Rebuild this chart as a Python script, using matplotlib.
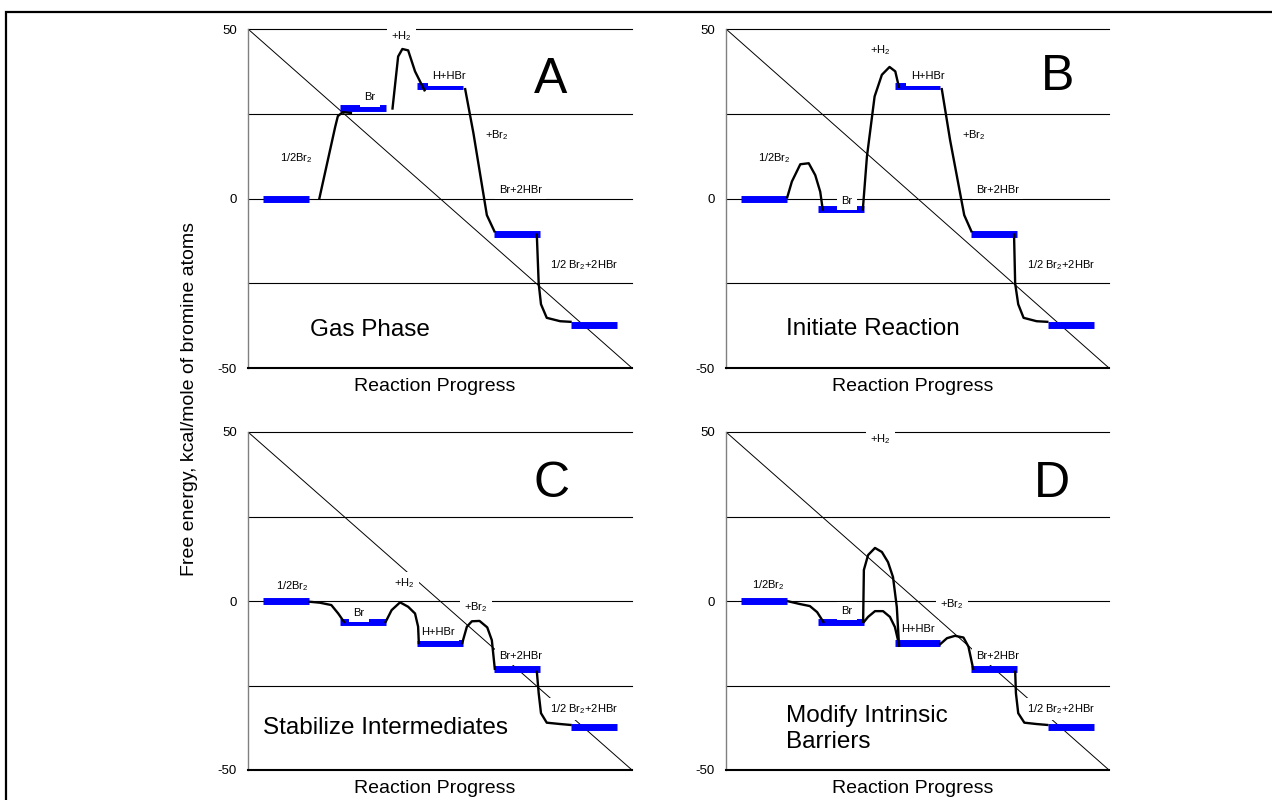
import matplotlib
matplotlib.use("Agg")
import matplotlib.pyplot as plt
from matplotlib.patches import Rectangle

plt.rcParams['font.family'] = ['Liberation Sans', 'DejaVu Sans']

# --- data -------------------------------------------------------------
bar_start = [4, 24, 44, 64, 84]
bar_end = [16, 36, 56, 76, 96]

levels_a = [0, 26.7, 33.3, -10.4, -37.3]
levels_b = [0, -3.0, 33.3, -10.4, -37.3]
levels_c = [0, -6.2, -12.3, -20.0, -37.3]
levels_d = [0, -6.2, -12.3, -20.0, -37.3]

curves_a = [
    ([18.5, 22.7, 23.4, 24.7, 27.1], [-0.4, 21.1, 24.3, 25.5, 25.2]),
    ([37.6, 39.1, 40.2, 41.7, 43.5, 46.1], [26.2, 41.9, 44.1, 43.7, 37.5, 31.6]),
    ([56.5, 58.7, 62.2, 64.3], [32.6, 19.3, -4.9, -10.0]),
    ([75.2, 75.7, 76.3, 77.8, 81.3, 84.3], [-10.3, -25.1, -31.2, -35.2, -36.2, -36.4]),
]
curves_b = [
    ([15.9, 17.2, 19.4, 21.6, 23.3, 24.6, 25.3], [0, 5.0, 10.1, 10.4, 6.9, 2.0, -3.6]),
    ([35.7, 36.8, 38.8, 40.7, 42.7, 44.2, 45.2], [-3.6, 12.4, 30.1, 36.5, 38.8, 37.5, 32.6]),
    ([56.3, 58.5, 62.2, 64.2], [32.6, 17.3, -4.9, -10.0]),
    ([75.2, 75.5, 76.3, 77.7, 81.1, 84.2], [-10.3, -25.1, -31.2, -35.2, -36.2, -36.4]),
]
curves_c = [
    ([15.8, 18.7, 21.7, 23.5, 25.2], [-0.2, -0.5, -1.2, -3.7, -6.5]),
    ([35.7, 37.4, 39.6, 41.7, 43.5, 44.3, 44.5], [-6.5, -2.7, -0.4, -1.7, -3.7, -7.6, -12.8]),
    ([55.7, 57.0, 58.3, 60.3, 62.3, 63.5, 64.3], [-12.8, -7.6, -6.0, -5.9, -7.8, -11.6, -20.4]),
    ([75.2, 75.7, 76.3, 77.8, 81.3, 84.3], [-20.6, -27.3, -33.2, -36.0, -36.4, -36.7]),
]
curves_d = [
    ([15.9, 19.3, 21.9, 23.8, 25.6], [0, -0.9, -1.5, -3.3, -6.5]),
    ([35.8, 37.1, 38.9, 41.0, 42.8, 44.1, 45.2], [-6.5, -4.7, -3.0, -3.0, -4.7, -7.7, -13.0]),
    ([35.8, 36.0, 37.1, 38.9, 40.7, 42.3, 43.6, 44.6, 45.2], [-6.5, 9.2, 13.6, 15.7, 14.5, 11.5, 7.1, -1.8, -13.6]),
    ([55.7, 57.7, 59.8, 62.0, 63.3, 64.6], [-13.0, -11.0, -10.3, -10.8, -13.5, -20.4]),
    ([75.5, 75.7, 76.3, 77.9, 81.1, 84.2], [-20.6, -27.3, -33.2, -36.0, -36.4, -36.7]),
]

S2 = r'$\mathregular{_2}$'
species = ['1/2Br' + S2, 'Br', '+H' + S2, 'H+HBr', '+Br' + S2, 'Br+2HBr', '1/2 Br' + S2 + '+2HBr']

label_pos_a = [(12.6, 11.9), (31.7, 29.8), (40.0, 47.8), (52.4, 36.0), (64.8, 18.8), (70.9, 2.5), (87.4, -19.7)]
label_pos_b = [(12.6, 11.9), (31.6, -0.7), (40.3, 43.7), (52.6, 36.0), (64.6, 18.8), (70.9, 2.5), (87.4, -19.7)]
label_pos_c = [(11.6, 4.5), (28.9, -3.5), (40.7, 5.2), (49.4, -9.1), (59.3, -1.7), (70.9, -16.3), (87.4, -32.0)]
label_pos_d = [(11.1, 4.7), (31.6, -2.9), (40.3, 47.8), (50.0, -8.3), (59.0, -0.9), (70.9, -16.3), (87.4, -32.0)]

letters = ['A', 'B', 'C', 'D']
letter_pos = [(78.7, 35.0), (86.6, 35.8), (79.1, 34.7), (85.0, 34.7)]
captions = ['Gas Phase', 'Initiate Reaction', 'Stabilize Intermediates', 'Modify Intrinsic\nBarriers']
caption_pos = [(16.1, -38.9), (15.7, -38.4), (3.9, -37.5), (15.7, -37.9)]

grid_levels = [50, 25, 0, -25]
yticks = [-50, 0, 50]
diag_x = [0, 100]
diag_y = [50, -50]

# --- figure -----------------------------------------------------------
fig = plt.figure(figsize=(12.72, 8), dpi=100)
W, H = 1272, 800
boxes = [(248, 29, 632, 368), (726, 29, 1109, 368), (248, 432, 632, 770), (726, 432, 1109, 770)]

panels = [
    (levels_a, curves_a, label_pos_a),
    (levels_b, curves_b, label_pos_b),
    (levels_c, curves_c, label_pos_c),
    (levels_d, curves_d, label_pos_d),
]

for i, (levels, curves, lpos) in enumerate(panels):
    x0, y0, x1, y1 = boxes[i]
    ax = fig.add_axes([x0 / W, 1 - y1 / H, (x1 - x0) / W, (y1 - y0) / H])
    ax.set_xlim(0, 100)
    ax.set_ylim(-50, 50)
    for g in grid_levels:
        ax.axhline(g, color='black', lw=0.8, zorder=1, clip_on=False)
    ax.plot(diag_x, diag_y, color='black', lw=0.7, zorder=2)
    ax.hlines(levels, bar_start, bar_end, colors='#0000ff', lw=5, zorder=3, capstyle='butt')
    for cx, cy in curves:
        ax.plot(cx, cy, color='black', lw=1.7, zorder=6, solid_capstyle='butt')
    for txt, (tx, ty) in zip(species, lpos):
        ax.text(tx, ty, txt, fontsize=8, ha='center', va='center', zorder=5,
                bbox=dict(fc='white', ec='none', pad=3))
    lx, ly = letter_pos[i]
    ax.text(lx, ly, letters[i], fontsize=36, ha='center', va='center', zorder=7)
    cx_, cy_ = caption_pos[i]
    ax.text(cx_, cy_, captions[i], fontsize=17.5, ha='left', va='center', linespacing=1.2, zorder=7)
    ax.text(0.487, -0.056, 'Reaction Progress', fontsize=14, ha='center', va='center',
            transform=ax.transAxes)

    ax.set_yticks(yticks)
    ax.set_yticklabels([str(v) for v in yticks])
    ax.set_xticks([])
    ax.tick_params(axis='y', length=0, pad=8, labelsize=9.5)
    for s in ['top', 'right']:
        ax.spines[s].set_visible(False)
    ax.spines['left'].set_color('#808080')
    ax.spines['left'].set_linewidth(1.0)
    ax.spines['bottom'].set_color('black')
    ax.spines['bottom'].set_linewidth(1.5)
    ax.patch.set_alpha(0)

fig.text(189 / W, 1 - 399 / H, 'Free energy, kcal/mole of bromine atoms', rotation=90,
         fontsize=14, ha='center', va='center')

fig.add_artist(Rectangle((6 / W, -0.1), 2, 1 + 0.1 - 12 / H, transform=fig.transFigure,
                         fill=False, ec='black', lw=1.6))

fig.savefig('out.png', dpi=100)
